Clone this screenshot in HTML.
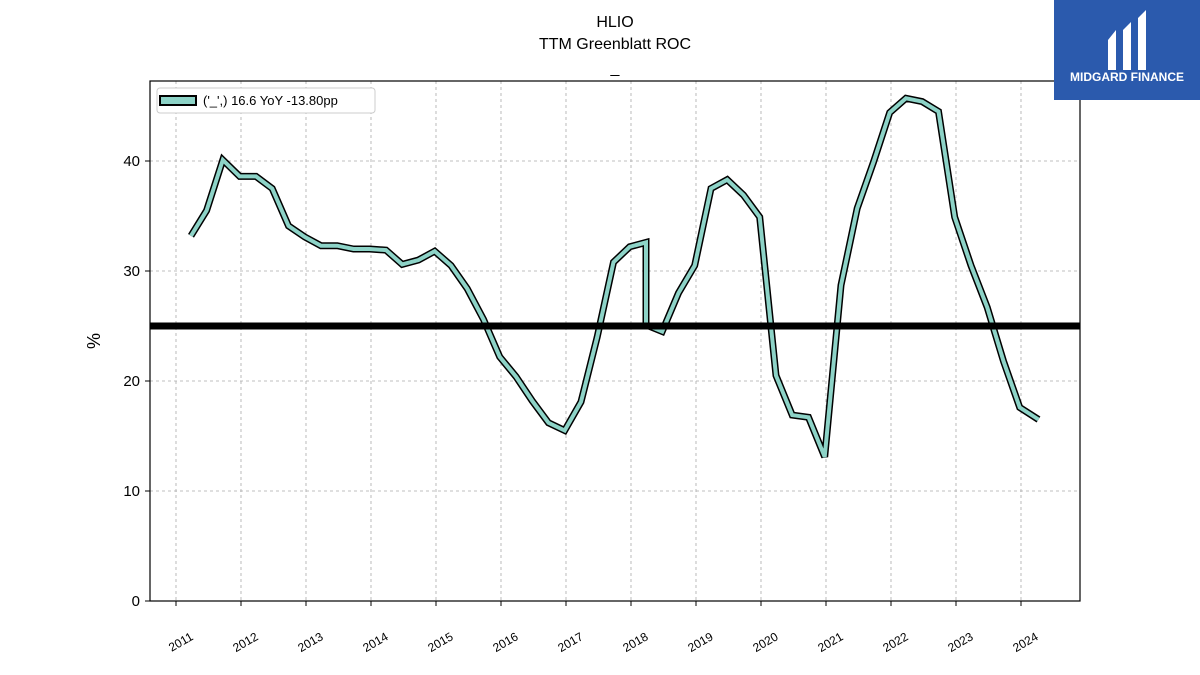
<!DOCTYPE html>
<html><head><meta charset="utf-8"><style>
html,body{margin:0;padding:0;background:#fff;width:1200px;height:675px;overflow:hidden}
svg{display:block;font-family:"Liberation Sans","DejaVu Sans",sans-serif}
</style></head><body>
<svg id="chart" width="1200" height="675" viewBox="0 0 1200 675">
<g>
<text x="615" y="27" font-size="16" text-anchor="middle">HLIO</text>
<text x="615" y="49" font-size="16" text-anchor="middle">TTM Greenblatt ROC</text>
<text x="615" y="73" font-size="16" text-anchor="middle">_</text>
</g>
<g id="grid"></g>
<g id="series"></g>
<line id="refline" x1="150" x2="1080" stroke="#000" stroke-width="7"/>
<rect x="150" y="81" width="930" height="520" fill="none" stroke="#000" stroke-width="1.2"/>
<g id="axes"></g>
<text x="0" y="0" font-size="18" text-anchor="middle" transform="translate(100,341) rotate(-90)">%</text>
<g>
<rect x="157" y="88" width="218" height="25" rx="3" fill="#fff" stroke="#ccc"/>
<rect x="160" y="96" width="36" height="9" fill="#8dd3c7" stroke="#000" stroke-width="2"/>
<text x="203" y="105" font-size="13">('_',) 16.6 YoY -13.80pp</text>
</g>
<g>
<rect x="1054" y="0" width="146" height="100" fill="#2b5aad"/>
<path d="M1108 40 L1116 30 L1116 70 L1108 70 Z M1123 30 L1131 22 L1131 70 L1123 70 Z M1138 18 L1146 10 L1146 70 L1138 70 Z" fill="#fff"/>
<text x="1127" y="81" font-size="12" font-weight="bold" fill="#fff" text-anchor="middle">MIDGARD FINANCE</text>
</g>
</svg>
<script>
const dates=[2011.23,2011.47,2011.72,2011.98,2012.23,2012.48,2012.73,2012.98,2013.23,2013.48,2013.73,2013.98,2014.23,2014.48,2014.73,2014.98,2015.23,2015.48,2015.73,2015.98,2016.23,2016.48,2016.73,2016.98,2017.23,2017.48,2017.73,2017.98,2018.23,2018.23,2018.48,2018.73,2018.98,2019.23,2019.48,2019.73,2019.98,2020.23,2020.48,2020.73,2020.98,2021.23,2021.48,2021.73,2021.98,2022.23,2022.48,2022.73,2022.98,2023.23,2023.48,2023.73,2023.98,2024.27];
const values=[33.2,35.5,40.1,38.6,38.6,37.5,34.1,33.1,32.3,32.3,32.0,32.0,31.9,30.6,31.0,31.8,30.5,28.4,25.6,22.2,20.4,18.2,16.2,15.5,18.1,24.0,30.8,32.2,32.6,25.1,24.5,28.0,30.5,37.5,38.3,36.9,34.9,20.5,16.9,16.7,13.1,28.7,35.7,39.9,44.4,45.7,45.4,44.5,34.9,30.5,26.7,21.8,17.6,16.5];
const yTicks=[0,10,20,30,40];
const xTickYears=[2011,2012,2013,2014,2015,2016,2017,2018,2019,2020,2021,2022,2023,2024];
const refValue=25;
const NS="http://www.w3.org/2000/svg";
const X0=150,X1=1080,Y0=81,Y1=601;
function xs(t){return 176+(t-2011)*65;}
function ys(v){return 601-v*11;}
const grid=document.getElementById('grid'),axes=document.getElementById('axes'),series=document.getElementById('series');
function mk(tag,attrs,parent){const e=document.createElementNS(NS,tag);for(const k in attrs)e.setAttribute(k,attrs[k]);parent.appendChild(e);return e;}
yTicks.forEach(v=>{const y=ys(v);
const g=mk('line',{x1:X0,x2:X1,y1:y,y2:y,stroke:'#aaa','stroke-width':0.8,'stroke-dasharray':'3,3'},grid);


const t=mk('line',{x1:X0-5,x2:X0,y1:y,y2:y,stroke:'#000'},axes);


const l=mk('text',{x:X0-10,y:y+5,'font-size':15,'text-anchor':'end'},axes);l.textContent=v;


});
xTickYears.forEach(yr=>{const x=xs(yr);
const g=mk('line',{x1:x,x2:x,y1:Y0,y2:Y1,stroke:'#aaa','stroke-width':0.8,'stroke-dasharray':'3,3'},grid);


const t=mk('line',{x1:x,x2:x,y1:Y1,y2:Y1+5,stroke:'#000'},axes);


const l=mk('text',{x:0,y:0,'font-size':12,'text-anchor':'end',transform:`translate(${x+18},${Y1+38}) rotate(-30)`},axes);l.textContent=yr;


});
const pts=dates.map((d,i)=>xs(d).toFixed(1)+','+ys(values[i]).toFixed(1)).join(' ');
const o=mk('polyline',{points:pts,fill:'none',stroke:'#000','stroke-width':7,'stroke-linejoin':'miter'},series);


const s=mk('polyline',{points:pts,fill:'none',stroke:'#8dd3c7','stroke-width':4,'stroke-linejoin':'miter'},series);


const r=document.getElementById('refline');r.setAttribute('y1',ys(refValue));r.setAttribute('y2',ys(refValue));
</script>
</body></html>
